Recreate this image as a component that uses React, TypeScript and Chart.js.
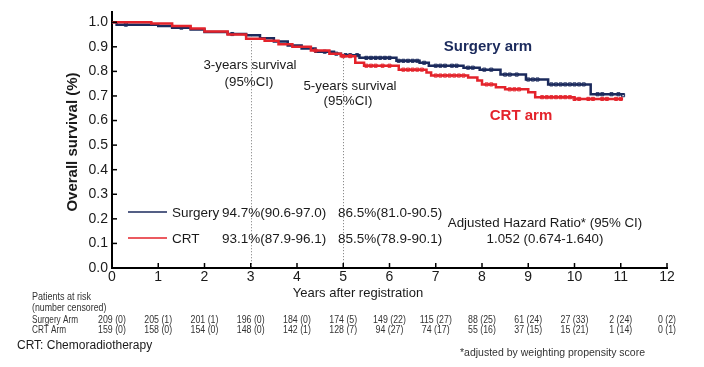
import React, { useEffect, useRef } from "react";
import { Chart, registerables } from "chart.js";

Chart.register(...registerables);

const FONT = '"Liberation Sans", Arial, sans-serif';
const NAVY = "#1b2a5c";
const RED = "#e4232b";

const xTicks = [0, 1, 2, 3, 4, 5, 6, 7, 8, 9, 10, 11, 12];
const yTicks = [0, 0.1, 0.2, 0.3, 0.4, 0.5, 0.6, 0.7, 0.8, 0.9, 1.0];

const surgeryTimes = [0, 0.1, 1.0, 1.3, 1.7, 2.0, 2.5, 2.9, 3.2, 3.5, 3.8, 4.1, 4.4, 4.8, 4.95, 5.35, 6.15, 6.65, 6.85, 7.6, 7.95, 8.4, 8.95, 9.43, 10.35, 11.05];
const surgerySurv = [1.0, 0.99, 0.985, 0.978, 0.97, 0.96, 0.952, 0.947, 0.935, 0.922, 0.905, 0.893, 0.88, 0.872, 0.866, 0.855, 0.843, 0.835, 0.823, 0.815, 0.807, 0.787, 0.767, 0.747, 0.707, 0.703];

const crtTimes = [0, 0.85, 1.3, 1.7, 2.0, 2.5, 2.9, 3.3, 3.6, 3.9, 4.3, 4.7, 4.95, 5.26, 5.45, 6.2, 6.8, 6.9, 7.7, 7.9, 8.0, 8.3, 8.5, 9.0, 9.15, 10.0, 11.05];
const crtSurv = [1.0, 0.995, 0.985, 0.975, 0.962, 0.95, 0.933, 0.925, 0.91, 0.9, 0.885, 0.872, 0.862, 0.835, 0.823, 0.807, 0.795, 0.783, 0.775, 0.763, 0.747, 0.735, 0.727, 0.715, 0.695, 0.688, 0.688];

const surgeryCensor = [0.3, 1.5, 2.6, 4.6, 4.85, 5.05, 5.15, 5.3, 5.5, 5.6, 5.7, 5.8, 5.9, 6.0, 6.2, 6.3, 6.4, 6.5, 6.6, 6.75, 7.0, 7.1, 7.2, 7.35, 7.45, 7.7, 7.8, 8.05, 8.2, 8.5, 8.6, 8.75, 9.0, 9.1, 9.2, 9.5, 9.6, 9.7, 9.8, 9.9, 10.0, 10.1, 10.2, 10.5, 10.6, 10.8, 10.95, 11.05];
const crtCensor = [4.4, 5.0, 5.15, 5.5, 5.6, 5.7, 5.85, 6.0, 6.3, 6.4, 6.5, 6.6, 6.7, 7.0, 7.1, 7.2, 7.3, 7.4, 7.5, 7.6, 8.1, 8.2, 8.6, 8.7, 8.8, 9.3, 9.4, 9.5, 9.6, 9.7, 9.8, 9.9, 10.0, 10.1, 10.3, 10.4, 10.6, 10.7, 10.9, 11.0];

const surgeryAtRisk = [209, 205, 201, 196, 184, 174, 149, 115, 88, 61, 27, 2, 0];
const surgeryCensored = [0, 1, 1, 0, 0, 5, 22, 27, 25, 24, 33, 24, 2];
const crtAtRisk = [159, 158, 154, 148, 142, 128, 94, 74, 55, 37, 15, 1, 0];
const crtCensored = [0, 0, 0, 0, 1, 7, 27, 17, 16, 15, 21, 14, 1];

const surgeryLegend = ["Surgery", "94.7%(90.6-97.0)", "86.5%(81.0-90.5)"];
const crtLegend = ["CRT", "93.1%(87.9-96.1)", "85.5%(78.9-90.1)"];
const hazardText = ["Adjusted Hazard Ratio* (95% CI)", "1.052 (0.674-1.640)"];

function survAt(times: number[], surv: number[], t: number) {
  let v = surv[0];
  for (let i = 0; i < times.length; i++) if (times[i] <= t) v = surv[i];
  return v;
}

function narrowText(ctx: CanvasRenderingContext2D, text: string, x: number, y: number, sx: number) {
  ctx.save();
  ctx.translate(x, y);
  ctx.scale(sx, 1);
  ctx.fillText(text, 0, 0);
  ctx.restore();
}

const overlay = {
  id: "overlay",
  beforeDatasetsDraw(chart: any) {
    const { ctx, scales } = chart;
    const x = scales.x, y = scales.y;
    ctx.save();
    ctx.strokeStyle = "#777";
    ctx.lineWidth = 1;
    ctx.setLineDash([1, 2]);
    [3, 5].forEach((t) => {
      const px = Math.round(x.getPixelForValue(t)) + 0.5;
      ctx.beginPath();
      ctx.moveTo(px, y.getPixelForValue(survAt(surgeryTimes, surgerySurv, t)));
      ctx.lineTo(px, y.getPixelForValue(0));
      ctx.stroke();
    });
    ctx.restore();
  },
  afterDraw(chart: any) {
    const { ctx, chartArea, scales } = chart;
    const x = scales.x, y = scales.y;
    ctx.save();
    ctx.strokeStyle = "#000";
    ctx.lineWidth = 1.5;
    xTicks.forEach((v) => {
      const px = x.getPixelForValue(v);
      ctx.beginPath();
      ctx.moveTo(px, chartArea.bottom);
      ctx.lineTo(px, chartArea.bottom - 5);
      ctx.stroke();
    });
    yTicks.forEach((v) => {
      const py = y.getPixelForValue(v);
      ctx.beginPath();
      ctx.moveTo(chartArea.left, py);
      ctx.lineTo(chartArea.left + 5, py);
      ctx.stroke();
    });

    ctx.fillStyle = "#1a1a1a";
    ctx.textBaseline = "middle";
    ctx.save();
    ctx.translate(73, 142);
    ctx.rotate(-Math.PI / 2);
    ctx.textAlign = "center";
    ctx.font = `bold 15px ${FONT}`;
    ctx.fillText("Overall survival (%)", 0, 0);
    ctx.restore();

    ctx.textAlign = "center";
    ctx.font = `13px ${FONT}`;
    ctx.fillText("Years after registration", 358, 293);

    ctx.font = `13.3px ${FONT}`;
    ctx.fillText("3-years survival", 250, 65);
    ctx.fillText("(95%CI)", 249, 82);
    ctx.fillText("5-years survival", 350, 86);
    ctx.fillText("(95%CI)", 348, 101);

    ctx.fillText(hazardText[0], 545, 223);
    ctx.fillText(hazardText[1], 545, 239);

    ctx.lineWidth = 1.5;
    ctx.strokeStyle = NAVY;
    ctx.beginPath(); ctx.moveTo(128, 212); ctx.lineTo(167, 212); ctx.stroke();
    ctx.strokeStyle = RED;
    ctx.beginPath(); ctx.moveTo(128, 238); ctx.lineTo(167, 238); ctx.stroke();
    ctx.textAlign = "left";
    ctx.font = `13.5px ${FONT}`;
    ctx.fillText(surgeryLegend[0], 172, 213);
    ctx.fillText(surgeryLegend[1], 222, 213);
    ctx.fillText(surgeryLegend[2], 338, 213);
    ctx.fillText(crtLegend[0], 172, 239);
    ctx.fillText(crtLegend[1], 222, 239);
    ctx.fillText(crtLegend[2], 338, 239);

    ctx.textAlign = "center";
    ctx.font = `bold 15px ${FONT}`;
    ctx.fillStyle = NAVY;
    ctx.fillText("Surgery arm", 488, 47);
    ctx.fillStyle = RED;
    ctx.fillText("CRT arm", 521, 116);

    ctx.fillStyle = "#333";
    ctx.font = `10px ${FONT}`;
    ctx.textAlign = "left";
    narrowText(ctx, "Patients at risk", 32, 297, 0.9);
    narrowText(ctx, "(number censored)", 32, 308, 0.88);
    narrowText(ctx, "Surgery Arm", 32, 320, 0.82);
    narrowText(ctx, "CRT Arm", 32, 330, 0.82);
    ctx.textAlign = "center";
    xTicks.forEach((v, i) => {
      const px = x.getPixelForValue(v);
      narrowText(ctx, `${surgeryAtRisk[i]} (${surgeryCensored[i]})`, px, 320, 0.88);
      narrowText(ctx, `${crtAtRisk[i]} (${crtCensored[i]})`, px, 330, 0.88);
    });

    ctx.fillStyle = "#1a1a1a";
    ctx.textAlign = "left";
    ctx.font = `12px ${FONT}`;
    ctx.fillText("CRT: Chemoradiotherapy", 17, 346);
    ctx.font = `10.5px ${FONT}`;
    ctx.fillStyle = "#333";
    ctx.fillText("*adjusted by weighting propensity score", 460, 353);
    ctx.restore();
  },
};

export default function App() {
  const ref = useRef<HTMLCanvasElement | null>(null);
  useEffect(() => {
    if (!ref.current) return;
    const toXY = (ts: number[], ss: number[]) => ts.map((t, i) => ({ x: t, y: ss[i] }));
    const censorXY = (cs: number[], ts: number[], ss: number[]) => cs.map((t) => ({ x: t, y: survAt(ts, ss, t) }));
    const chart = new Chart(ref.current, {
      type: "scatter",
      data: {
        datasets: [
          { data: toXY(crtTimes, crtSurv), showLine: true, stepped: true, borderColor: RED, borderWidth: 2.5, pointRadius: 0 } as any,
          { data: censorXY(crtCensor, crtTimes, crtSurv), showLine: false, pointStyle: "rect", pointRadius: 2.2, borderColor: RED, borderWidth: 1, backgroundColor: "rgba(0,0,0,0)" } as any,
          { data: toXY(surgeryTimes, surgerySurv), showLine: true, stepped: true, borderColor: NAVY, borderWidth: 2.5, pointRadius: 0 } as any,
          { data: censorXY(surgeryCensor, surgeryTimes, surgerySurv), showLine: false, pointStyle: "rect", pointRadius: 2.2, borderColor: NAVY, borderWidth: 1, backgroundColor: "rgba(0,0,0,0)" } as any,
        ],
      },
      options: {
        animation: false,
        responsive: false,
        layout: { padding: { top: 9, right: 37, left: 0, bottom: 0 } },
        plugins: { legend: { display: false }, tooltip: { enabled: false } },
        scales: {
          x: {
            type: "linear",
            min: 0,
            max: 12,
            afterFit: (s: any) => { s.height = 99; },
            afterBuildTicks: (s: any) => { s.ticks = xTicks.map((v) => ({ value: v })); },
            ticks: { stepSize: 1, padding: 1, color: "#1a1a1a", font: { family: FONT, size: 14 } },
            grid: { display: false, drawTicks: false },
            border: { display: true, color: "#000", width: 2 },
          },
          y: {
            type: "linear",
            min: 0,
            max: 1.04,
            afterFit: (s: any) => { s.width = 112; },
            afterBuildTicks: (s: any) => { s.ticks = yTicks.map((v) => ({ value: v })); },
            ticks: { padding: 4, color: "#1a1a1a", font: { family: FONT, size: 14 }, callback: (v: any) => Number(v).toFixed(1) },
            grid: { display: false, drawTicks: false },
            border: { display: true, color: "#000", width: 2 },
          },
        },
      },
      plugins: [overlay],
    });
    return () => chart.destroy();
  }, []);
  return (
    <div style={{ position: "absolute", left: 0, top: 0, width: 704, height: 367, background: "#fff" }}>
      <canvas ref={ref} width={704} height={367} />
    </div>
  );
}
